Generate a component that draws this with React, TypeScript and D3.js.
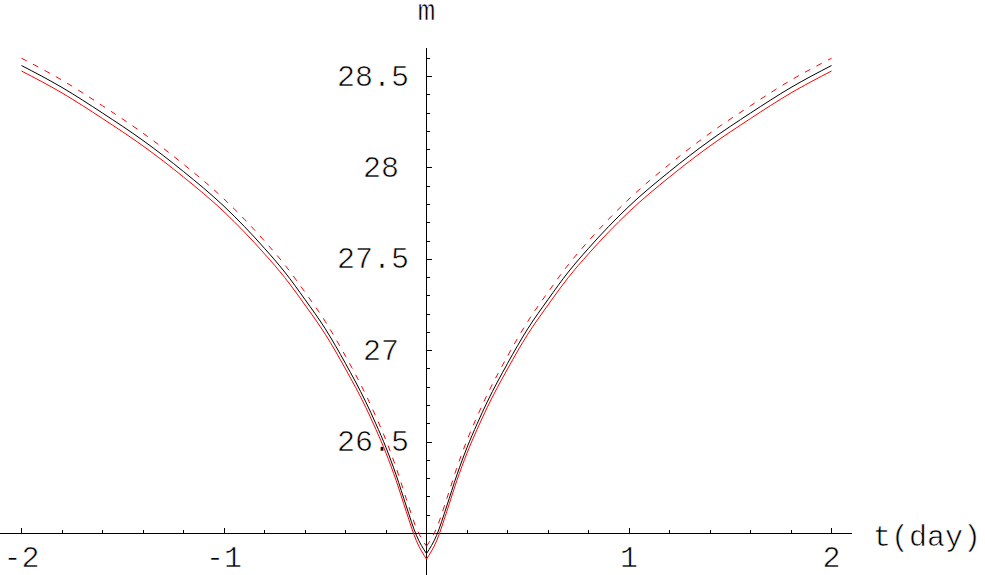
import * as d3 from "d3";

// time (days) from peak
const tDays = [
  -2, -1.8, -1.6, -1.4, -1.2, -1, -0.9, -0.8, -0.7, -0.6, -0.5, -0.4, -0.3, -0.25, -0.2, -0.15, -0.1, -0.05,
  0,
  0.05, 0.1, 0.15, 0.2, 0.25, 0.3, 0.4, 0.5, 0.6, 0.7, 0.8, 0.9, 1, 1.2, 1.4, 1.6, 1.8, 2,
];

// magnitudes
const mBlack = [
  28.56, 28.44, 28.3, 28.15, 27.98, 27.79, 27.68, 27.56, 27.43, 27.28, 27.12, 26.93, 26.72, 26.6, 26.47, 26.32, 26.15, 25.99,
  25.89,
  25.99, 26.15, 26.32, 26.47, 26.6, 26.72, 26.93, 27.12, 27.28, 27.43, 27.56, 27.68, 27.79, 27.98, 28.15, 28.3, 28.44, 28.56,
];

const mRedDashed = [
  28.6, 28.48, 28.34, 28.19, 28.02, 27.83, 27.72, 27.6, 27.47, 27.32, 27.16, 26.97, 26.76, 26.64, 26.51, 26.36, 26.19, 26.03,
  25.93,
  26.03, 26.19, 26.36, 26.51, 26.64, 26.76, 26.97, 27.16, 27.32, 27.47, 27.6, 27.72, 27.83, 28.02, 28.19, 28.34, 28.48, 28.6,
];

const mRedSolid = [
  28.53, 28.41, 28.27, 28.12, 27.95, 27.76, 27.65, 27.53, 27.4, 27.25, 27.09, 26.9, 26.69, 26.57, 26.44, 26.29, 26.12, 25.96,
  25.86,
  25.96, 26.12, 26.29, 26.44, 26.57, 26.69, 26.9, 27.09, 27.25, 27.4, 27.53, 27.65, 27.76, 27.95, 28.12, 28.27, 28.41, 28.53,
];

const xTickLabels = [-2, -1, 1, 2];
const yTickLabels = [26.5, 27, 27.5, 28, 28.5];

const W = 985;
const H = 575;
const FONT = "'Courier New', 'Liberation Mono', monospace";

// thin the glyphs a little with a white outline (reference uses a light Courier)
const textStyle = {
  fontFamily: FONT,
  fontSize: 30,
  fill: "#000",
  stroke: "#fff",
  strokeWidth: 0.6,
};

export default function App() {
  const x = d3.scaleLinear().domain([-2, 2]).range([21.5, 831.5]);
  const y = d3.scaleLinear().domain([26, 28.5]).range([533.5, 76.5]);

  const x0 = x(0);
  const y0 = y(26);

  const xMinor = d3.range(-10, 11).map((i) => i / 5);
  const yMinor = d3.range(261, 287).map((i) => i / 10);

  const line = d3
    .line<[number, number]>()
    .x((d) => x(d[0]))
    .y((d) => y(d[1]))
    .curve(d3.curveMonotoneX);

  // each branch drawn on its own so the cusp at t=0 stays pointed
  const branches = (vals: number[]) => {
    const pts: [number, number][] = tDays.map((t, i) => [t, vals[i]]);
    return [pts.filter((d) => d[0] <= 0), pts.filter((d) => d[0] >= 0)];
  };

  const series = [
    { vals: mRedSolid, color: "#ff0000", dash: null },
    { vals: mBlack, color: "#000000", dash: null },
    { vals: mRedDashed, color: "#ff0000", dash: "6,7" },
  ];

  return (
    <svg
      width={W}
      height={H}
      style={{ position: "absolute", left: 0, top: 0, background: "#fff" }}
    >
      {/* tick labels first, so the curves sit on top */}
      {xTickLabels.map((t) => (
        <text key={"xl" + t} x={x(t)} y={567} textAnchor="middle" {...textStyle}>
          {t < 0 ? "-" + Math.abs(t) : String(t)}
        </text>
      ))}

      {yTickLabels.map((v) => (
        <text
          key={"yl" + v}
          x={Number.isInteger(v) ? 399 : 409}
          y={y(v) + 9}
          textAnchor="end"
          {...textStyle}
        >
          {String(v)}
        </text>
      ))}

      <text x={x0} y={20} textAnchor="middle" {...textStyle}>
        m
      </text>
      <text x={873} y={546} {...textStyle}>
        t(day)
      </text>

      {/* axes */}
      <line x1={0} x2={852} y1={y0} y2={y0} stroke="#000" strokeWidth={1} shapeRendering="crispEdges" />
      <line x1={x0} x2={x0} y1={48} y2={H} stroke="#000" strokeWidth={1} shapeRendering="crispEdges" />

      {xMinor.map((t) => {
        const major = Math.abs(t - Math.round(t)) < 1e-6;
        return (
          <line
            key={"xt" + t}
            x1={x(t)}
            x2={x(t)}
            y1={y0}
            y2={y0 - (major ? 5.5 : 4)}
            stroke="#000"
            strokeWidth={1}
            shapeRendering="crispEdges"
          />
        );
      })}

      {yMinor.map((v) => {
        const major = Math.abs(v * 2 - Math.round(v * 2)) < 1e-6;
        return (
          <line
            key={"yt" + v}
            x1={x0}
            x2={x0 + (major ? 5.5 : 3.5)}
            y1={y(v)}
            y2={y(v)}
            stroke="#000"
            strokeWidth={1}
            shapeRendering="crispEdges"
          />
        );
      })}

      {/* curves */}
      {series.map((s, i) =>
        branches(s.vals).map((b, j) => (
          <path
            key={"c" + i + "_" + j}
            d={line(b) || ""}
            fill="none"
            stroke={s.color}
            strokeWidth={1}
            strokeDasharray={s.dash || undefined}
          />
        ))
      )}
    </svg>
  );
}
